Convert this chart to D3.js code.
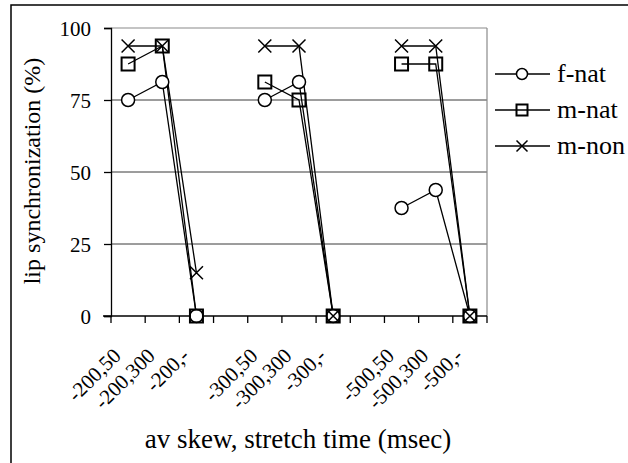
<!DOCTYPE html>
<html>
<head>
<meta charset="utf-8">
<script src="https://cdn.jsdelivr.net/npm/d3@7/dist/d3.min.js"></script>
<style>
html,body{margin:0;padding:0;background:#fff;}
svg{display:block;}
svg text{font-family:"Liberation Serif","Times New Roman",Times,"DejaVu Serif","Noto Serif",serif !important;fill:#000;}
</style>
</head>
<body>
<div id="chart"></div>
<script>
const categories = ["-200,50","-200,300","-200,-","","-300,50","-300,300","-300,-"," ","-500,50","-500,300","-500,-"];
const fNat = [75, 81.25, 0, null, 75, 81.25, 0, null, 37.5, 43.75, 0];
const mNat = [87.5, 93.75, 0, null, 81.25, 75, 0, null, 87.5, 87.5, 0];
const mNon = [93.75, 93.75, 15, null, 93.75, 93.75, 0, null, 93.75, 93.75, 0];
const seriesNames = ["f-nat", "m-nat", "m-non"];
const markers = ["circle", "square", "cross"];
const yTicks = [0, 25, 50, 75, 100];
const xTitle = "av skew, stretch time (msec)";
const yTitle = "lip synchronization (%)";

const W = 628, H = 463;
const FONT = '"Liberation Serif","Times New Roman",Times,"DejaVu Serif","Noto Serif",serif';
const svg = d3.select("#chart").append("svg").attr("width", W).attr("height", H)
  .attr("font-family", FONT);

// outer border
svg.append("rect").attr("x", 11).attr("y", 5).attr("width", 700).attr("height", 600)
  .attr("fill", "none").attr("stroke", "#000").attr("stroke-width", 1.5);

const L = 111, R = 487, T = 28, B = 316;
const x = d3.scaleBand().domain(d3.range(categories.length)).range([L, R]);
const y = d3.scaleLinear().domain([0, 100]).range([B, T]);

// gridlines
const g = svg.append("g");
g.selectAll("line.grid").data(yTicks.filter(d => d > 0 && d < 100)).enter().append("line")
  .attr("x1", L).attr("x2", R).attr("y1", d => y(d)).attr("y2", d => y(d))
  .attr("stroke", "#3a3a3a").attr("stroke-width", 1);
g.append("line").attr("x1", L).attr("x2", R).attr("y1", y(100)).attr("y2", y(100))
  .attr("stroke", "#8a8a8a").attr("stroke-width", 1.2);
g.append("line").attr("x1", R).attr("x2", R).attr("y1", y(100)).attr("y2", B)
  .attr("stroke", "#8a8a8a").attr("stroke-width", 1.2);

// y axis
const yAxis = d3.axisLeft(y).tickValues(yTicks).tickSize(7).tickPadding(13).tickFormat(d3.format("d"));
const ya = svg.append("g").attr("transform", `translate(${L},0)`).call(yAxis);
ya.attr("font-family", FONT);
ya.select(".domain").attr("stroke", "#000").attr("stroke-width", 1.3);
ya.selectAll(".tick line").attr("stroke", "#000").attr("stroke-width", 1.3);
ya.selectAll(".tick text").style("font-size", "21px").attr("dy", "0.34em");

// x axis
const xa = svg.append("g");
xa.append("line").attr("x1", L - 8).attr("x2", R).attr("y1", B).attr("y2", B)
  .attr("stroke", "#000").attr("stroke-width", 1.3);
const bounds = d3.range(categories.length + 1).map(i => i < categories.length ? x(i) : R);
xa.selectAll("line.tk").data(bounds).enter().append("line")
  .attr("x1", d => d).attr("x2", d => d).attr("y1", B).attr("y2", B + 7)
  .attr("stroke", "#000").attr("stroke-width", 1.3);
xa.selectAll("text.lab").data(categories).enter().append("text")
  .attr("transform", (d, i) => `translate(${x(i) + x.bandwidth() / 2 - 6},${B + 41}) rotate(-45)`)
  .attr("text-anchor", "end")
  .style("font-size", "21px")
  .text(d => d.trim());

// series
const data = [fNat, mNat, mNon];
const line = d3.line().defined(d => d.v !== null).x(d => x(d.i) + x.bandwidth() / 2).y(d => y(d.v));

function drawMarker(sel, type, cx, cy, s) {
  if (type === "circle") {
    sel.append("circle").attr("cx", cx).attr("cy", cy).attr("r", s / 2)
      .attr("fill", "#fff").attr("stroke", "#000").attr("stroke-width", 1.5);
  } else if (type === "square") {
    sel.append("rect").attr("x", cx - s / 2).attr("y", cy - s / 2).attr("width", s).attr("height", s)
      .attr("fill", "none").attr("stroke", "#000").attr("stroke-width", 2);
  } else {
    const h = s / 2;
    sel.append("path").attr("d", `M${cx - h},${cy - h}L${cx + h},${cy + h}M${cx - h},${cy + h}L${cx + h},${cy - h}`)
      .attr("fill", "none").attr("stroke", "#000").attr("stroke-width", 1.5);
  }
}

data.forEach((vals) => {
  const pts = vals.map((v, i) => ({ i, v }));
  svg.append("path").datum(pts).attr("d", line)
    .attr("fill", "none").attr("stroke", "#000").attr("stroke-width", 1.3);
});
data.forEach((vals, k) => {
  const mg = svg.append("g");
  vals.forEach((v, i) => {
    if (v === null) return;
    drawMarker(mg, markers[k], x(i) + x.bandwidth() / 2, y(v), 13);
  });
});

// legend
const lg = svg.append("g");
seriesNames.forEach((name, k) => {
  const ly = 74 + k * 36;
  lg.append("line").attr("x1", 495).attr("x2", 550).attr("y1", ly).attr("y2", ly)
    .attr("stroke", "#000").attr("stroke-width", 1.3);
  drawMarker(lg, markers[k], 522, ly, 11);
  lg.append("text").attr("x", 557).attr("y", ly + 8).style("font-size", "26px").text(name);
});

// axis titles
svg.append("text").attr("x", 298).attr("y", 448).attr("text-anchor", "middle")
  .style("font-size", "27px").text(xTitle);
svg.append("text").attr("transform", `translate(40,171) rotate(-90)`).attr("text-anchor", "middle")
  .style("font-size", "24px").text(yTitle);
</script>
</body>
</html>
